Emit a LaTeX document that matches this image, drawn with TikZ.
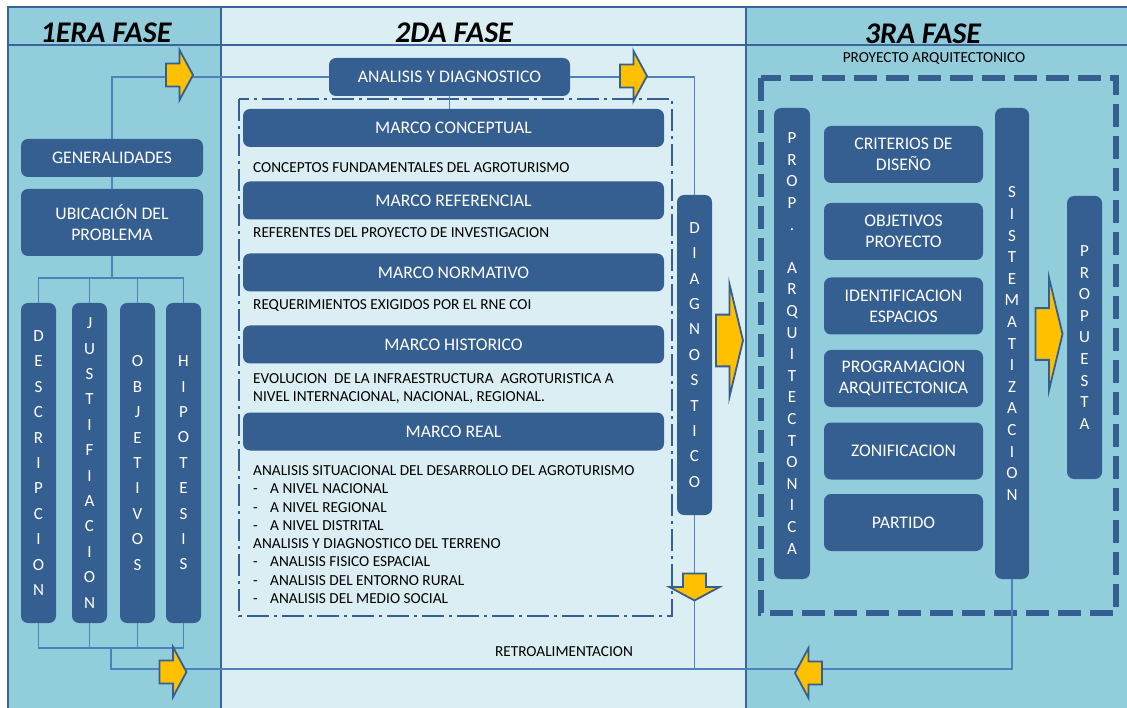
\documentclass[tikz,border=0pt]{standalone}
\usepackage{fontspec}
\setmainfont{Carlito}

\definecolor{fasebg}{HTML}{92CDDC}
\definecolor{fasemid}{HTML}{DAEEF3}
\definecolor{boxblue}{HTML}{365F91}
\definecolor{linkblue}{HTML}{4F81BD}
\definecolor{framblue}{HTML}{3A6598}
\definecolor{arrowgold}{HTML}{FFC000}

\newcommand{\cajafont}{\fontsize{17.7}{21}\selectfont}
\newcommand{\letrafont}{\fontsize{17}{25.4}\selectfont}
\newcommand{\letrafontb}{\fontsize{17}{21.6}\selectfont}
\newcommand{\textofont}{\fontsize{15.3}{18.3}\selectfont}
\newcommand{\fasefont}{\fontsize{30}{36}\selectfont\bfseries\itshape}

\tikzset{
  enlace/.style={draw=linkblue,line width=1.2pt},
  fatarrow/.pic={
    \draw[fill=arrowgold,draw=boxblue,line width=1.8pt,line join=miter]
      (-13.5,-11.5) -- (0,-11.5) -- (0,-25) -- (13.5,0) -- (0,25) -- (0,11.5) -- (-13.5,11.5) -- cycle;
  }
}

\begin{document}
\begin{tikzpicture}[x=1pt,y=-1pt]

        \useasboundingbox (0,0) rectangle (1127,708);

        % fondo de las fases
        \fill[fasebg]  (8,7)   rectangle (221,708);
        \fill[fasemid] (221,7) rectangle (746,708);
        \fill[fasebg]  (746,7) rectangle (1127,708);
        \draw[framblue,line width=2pt] (8,708) -- (8,7) -- (1127,7);
        \draw[framblue,line width=2pt] (8,45) -- (1127,45);
        \draw[framblue,line width=2pt] (221,7) -- (221,708);
        \draw[framblue,line width=2pt] (746,7) -- (746,708);

        \begin{scope}[every node/.style={font=\fasefont}]
          \node (f1) at (106,33) {1ERA FASE};
          \node (f2) at (454,33) {2DA FASE};
          \node (f3) at (923,34) {3RA FASE};
        \end{scope}

        \draw[boxblue,line width=2.2pt,dash pattern=on 22pt off 5pt on 3pt off 5pt] (239,99) rectangle (672,616);
        \draw[boxblue,line width=5.5pt,dash pattern=on 23pt off 9pt] (761,78) rectangle (1116,613);

        \begin{scope}[every node/.style={fill=boxblue,rounded corners=7pt,text=white,inner sep=0pt,align=center,font=\cajafont}]
          % 1era fase
          \node[minimum width=182pt,minimum height=38pt] (gen)  at (112,158)   {GENERALIDADES};
          \node[minimum width=182pt,minimum height=67pt] (ubic) at (112,222.5) {UBICACIÓN DEL\\PROBLEMA};
          \node[minimum width=35pt,minimum height=320pt,font=\letrafont] (desc) at (38.5,463)  {D\\E\\S\\C\\R\\I\\P\\C\\I\\O\\N};
          \node[minimum width=35pt,minimum height=320pt,font=\letrafont] (just) at (89.5,463)  {J\\U\\S\\T\\I\\F\\I\\A\\C\\I\\O\\N};
          \node[minimum width=35pt,minimum height=320pt,font=\letrafont] (obj)  at (137.5,463) {O\\B\\J\\E\\T\\I\\V\\O\\S};
          \node[minimum width=35pt,minimum height=320pt,font=\letrafont] (hip)  at (183.5,463) {H\\I\\P\\O\\T\\E\\S\\I\\S};

          % 2da fase
          \node[minimum width=241pt,minimum height=38pt] (anal)  at (449.5,77)    {ANALISIS Y DIAGNOSTICO};
          \node[minimum width=421pt,minimum height=38pt] (mconc) at (453.5,128)   {MARCO CONCEPTUAL};
          \node[minimum width=421pt,minimum height=38pt] (mref)  at (453.5,200.5) {MARCO REFERENCIAL};
          \node[minimum width=421pt,minimum height=38pt] (mnorm) at (453.5,272.5) {MARCO NORMATIVO};
          \node[minimum width=421pt,minimum height=38pt] (mhist) at (453.5,344.5) {MARCO HISTORICO};
          \node[minimum width=421pt,minimum height=38pt] (mreal) at (453.5,431.5) {MARCO REAL};
          \node[minimum width=35pt,minimum height=320pt,font=\letrafont] (diag) at (694.5,355) {D\\I\\A\\G\\N\\O\\S\\T\\I\\C\\O};

          % 3ra fase
          \node[minimum width=36pt,minimum height=471pt,font=\letrafontb] (prop)  at (792,343.5)  {P\\R\\O\\P\\.\\\mbox{}\\A\\R\\Q\\U\\I\\T\\E\\C\\T\\O\\N\\I\\C\\A};
          \node[minimum width=34pt,minimum height=471pt,font=\letrafontb] (sist)  at (1012,343.5) {S\\I\\S\\T\\E\\M\\A\\T\\I\\Z\\A\\C\\I\\O\\N};
          \node[minimum width=35pt,minimum height=283pt,font=\letrafontb] (propu) at (1084.5,337.5) {P\\R\\O\\P\\U\\E\\S\\T\\A};
          \node[minimum width=159pt,minimum height=57pt] (crit)  at (903.5,154.5) {CRITERIOS DE\\DISEÑO};
          \node[minimum width=159pt,minimum height=57pt] (objp)  at (903.5,231.5) {OBJETIVOS\\PROYECTO};
          \node[minimum width=159pt,minimum height=57pt] (ident) at (903.5,306)   {IDENTIFICACION\\ESPACIOS};
          \node[minimum width=159pt,minimum height=57pt] (progr) at (903.5,378.5) {PROGRAMACION\\ARQUITECTONICA};
          \node[minimum width=159pt,minimum height=57pt] (zon)   at (903.5,451)   {ZONIFICACION};
          \node[minimum width=159pt,minimum height=57pt] (part)  at (903.5,522.5) {PARTIDO};
        \end{scope}

        \begin{scope}[every node/.style={inner sep=0pt,font=\textofont,align=left}]
          \node[anchor=west] (tconc) at (253,168)   {CONCEPTOS FUNDAMENTALES DEL AGROTURISMO};
          \node[anchor=west] (tref)  at (253,233)   {REFERENTES DEL PROYECTO DE INVESTIGACION};
          \node[anchor=west] (tnorm) at (253,305.5) {REQUERIMIENTOS EXIGIDOS POR EL RNE COI};
          \node[anchor=north west] (thist) at (253,373.3) {EVOLUCION\ \ DE LA INFRAESTRUCTURA\ \ AGROTURISTICA A\\NIVEL INTERNACIONAL, NACIONAL, REGIONAL.};
          \node[anchor=north west] (treal) at (253,465.3) {ANALISIS SITUACIONAL DEL DESARROLLO DEL AGROTURISMO\\
            \makebox[17pt][l]{-}A NIVEL NACIONAL\\
            \makebox[17pt][l]{-}A NIVEL REGIONAL\\
            \makebox[17pt][l]{-}A NIVEL DISTRITAL\\
            ANALISIS Y DIAGNOSTICO DEL TERRENO\\
            \makebox[17pt][l]{-}ANALISIS FISICO ESPACIAL\\
            \makebox[17pt][l]{-}ANALISIS DEL ENTORNO RURAL\\
            \makebox[17pt][l]{-}ANALISIS DEL MEDIO SOCIAL};
          \node (tretro) at (564,652) {RETROALIMENTACION};
          \node (tproy)  at (934,59)  {PROYECTO ARQUITECTONICO};
        \end{scope}

        % enlaces
        \coordinate (reparto) at (112,278);
        \coordinate (union)   at (111,648);
        \coordinate (retro)   at (111,669);

        \draw[enlace] (gen.north) |- (anal.west);
        \draw[enlace] (gen.south) -- (ubic.north);
        \draw[enlace] (ubic.south) -- (reparto);
        \foreach \n in {desc,just,obj,hip} {
          \draw[enlace] (reparto) -| (\n.north);
          \draw[enlace] (\n.south) |- (union);
        }
        \draw[enlace] (union) -- (retro) -| (sist.south);
        \draw[enlace] (anal.south) -- (anal.south |- mconc.north);
        \draw[enlace] (anal.east) -| (diag.north);
        \draw[enlace] (diag.south) -- (diag.south |- retro);

        % flechas
        \pic at (179.5,75) {fatarrow};
        \pic at (633.5,76) {fatarrow};
        \pic[yscale=2.25] at (729.5,340.5) {fatarrow};
        \pic[yscale=2.25] at (1049,334) {fatarrow};
        \pic[rotate=-90] at (694.5,587) {fatarrow};
        \pic at (173,672) {fatarrow};
        \pic[rotate=180] at (808.5,673) {fatarrow};

      \end{tikzpicture}
\end{document}
